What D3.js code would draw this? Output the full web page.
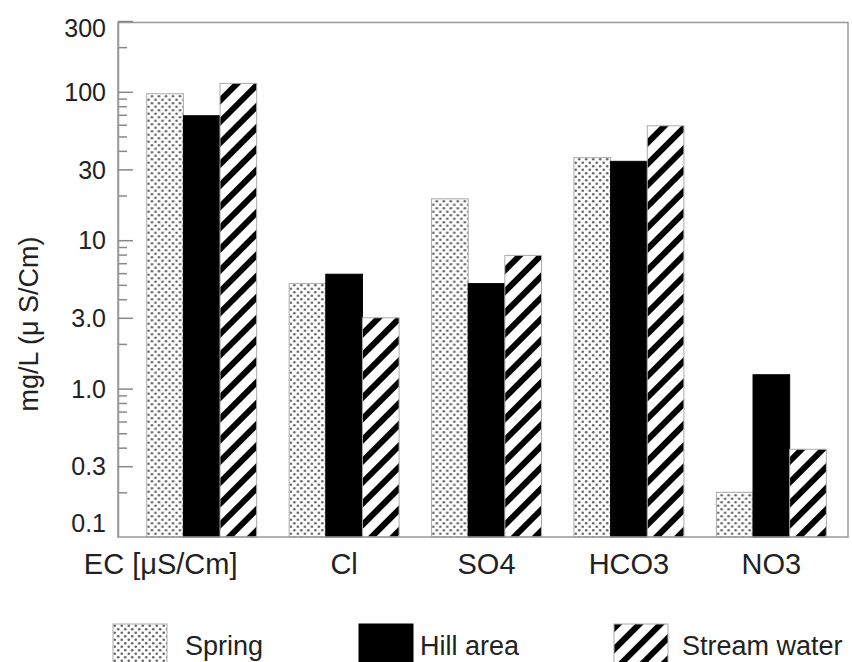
<!DOCTYPE html>
<html>
<head>
<meta charset="utf-8">
<script src="https://cdn.jsdelivr.net/npm/d3@7"></script>
<style>
  body { margin: 0; background: #fff; }
  svg { display: block; font-family: 'Liberation Sans', Arial, sans-serif; }
</style>
</head>
<body>
<div id="chart"></div>
<script>
(function () {

    const categories = ['EC [μS/Cm]', 'Cl', 'SO4', 'HCO3', 'NO3'];
    const seriesNames = ['Spring', 'Hill area', 'Stream water'];

    const spring = [97, 5.1, 19, 36, 0.2];
    const hillArea = [69, 5.9, 5.1, 34, 1.24];
    const streamWater = [114, 3.0, 7.9, 59, 0.39];

    const yTickValues = [0.1, 0.3, 1, 3, 10, 30, 100, 300];
    const yTickLabels = ['0.1', '0.3', '1.0', '3.0', '10', '30', '100', '300'];

    const width = 852,
      height = 662,
      left = 118,
      right = 848,
      top = 21,
      bottom = 537;

    const seriesValues = [spring, hillArea, streamWater];

    // one row per category, one value per series
    const rows = categories.map((cat, i) => ({
      cat,
      values: seriesNames.map((name, j) => ({ name, value: seriesValues[j][i] }))
    }));

    const x = d3
      .scaleBand()
      .domain(categories)
      .range([left, right])
      .paddingInner(0.228)
      .paddingOuter(0.177)
      .align(0.57);

    const xSub = d3
      .scaleBand()
      .domain(seriesNames)
      .range([0, x.bandwidth()]);

    const y = d3.scaleLog().domain([0.1, 300]).range([bottom, top]);

    const svg = d3
      .select('#chart')
      .append('svg')
      .attr('width', width)
      .attr('height', height);

    const defs = svg.append('defs');

    const dots = defs
      .append('pattern')
      .attr('id', 'dots')
      .attr('patternUnits', 'userSpaceOnUse')
      .attr('width', 7)
      .attr('height', 7);
    dots.append('rect').attr('width', 7).attr('height', 7).attr('fill', '#fff');
    dots.append('circle').attr('cx', 1.75).attr('cy', 1.75).attr('r', 1.3).attr('fill', '#666');
    dots.append('circle').attr('cx', 5.25).attr('cy', 5.25).attr('r', 1.3).attr('fill', '#666');

    const stripes = defs
      .append('pattern')
      .attr('id', 'stripes')
      .attr('patternUnits', 'userSpaceOnUse')
      .attr('width', 15)
      .attr('height', 15)
      .attr('patternTransform', 'rotate(45)');
    stripes.append('rect').attr('width', 15).attr('height', 15).attr('fill', '#fff');
    stripes.append('rect').attr('width', 6).attr('height', 15).attr('fill', '#000');

    const fills = {
      'Spring': 'url(#dots)',
      'Hill area': '#000',
      'Stream water': 'url(#stripes)'
    };

    // bars
    const group = svg
      .selectAll('.group')
      .data(rows)
      .enter()
      .append('g')
      .attr('class', 'group')
      .attr('transform', d => `translate(${x(d.cat)}, 0)`);

    group
      .selectAll('rect')
      .data(d => d.values)
      .enter()
      .append('rect')
      .attr('x', d => xSub(d.name))
      .attr('width', xSub.bandwidth())
      .attr('y', d => y(d.value))
      .attr('height', d => y(0.1) - y(d.value))
      .attr('fill', d => fills[d.name])
      .attr('stroke', d => (d.name === 'Hill area' ? '#000' : '#aaa'))
      .attr('stroke-width', 1);

    // frame
    svg
      .append('rect')
      .attr('x', left)
      .attr('y', top + 1.5)
      .attr('width', right - left)
      .attr('height', bottom - top - 1.5)
      .attr('fill', 'none')
      .attr('stroke', '#999')
      .attr('stroke-width', 1.5);

    // minor ticks
    const minor = y.ticks().filter(v => !yTickValues.some(t => Math.abs(t - v) < 1e-9));
    svg
      .append('g')
      .attr('class', 'y minor')
      .attr('transform', `translate(${left}, 0)`)
      .call(d3.axisLeft(y).tickValues(minor).tickSize(-9).tickFormat(''))
      .call(g => g.select('.domain').remove())
      .selectAll('line')
      .attr('stroke', '#888')
      .attr('stroke-width', 1.5);

    // major ticks + labels
    const yAxis = svg
      .append('g')
      .attr('class', 'y axis')
      .attr('transform', `translate(${left}, 0)`)
      .call(
        d3
          .axisLeft(y)
          .tickValues(yTickValues.slice(1))
          .tickSizeInner(-15)
          .tickSizeOuter(0)
          .tickPadding(12)
          .tickFormat(d => yTickLabels[yTickValues.indexOf(d)])
      );
    yAxis.select('.domain').attr('stroke', '#999').attr('stroke-width', 1.5);
    yAxis.selectAll('line').attr('stroke', '#888').attr('stroke-width', 1.5);
    yAxis
      .selectAll('text')
      .attr('fill', '#222')
      .style('font-size', '25px')
      .attr('dy', d => (d === 300 ? '0.6em' : '0.35em'));

    // bottom label 0.1 sits above the axis line
    svg
      .append('text')
      .attr('x', left - 12)
      .attr('y', y(yTickValues[0]) - 14)
      .attr('dy', '0.35em')
      .attr('text-anchor', 'end')
      .attr('fill', '#222')
      .style('font-size', '25px')
      .text(yTickLabels[0]);

    // x labels
    svg
      .append('g')
      .attr('class', 'x labels')
      .selectAll('text')
      .data(categories)
      .enter()
      .append('text')
      .attr('x', d => x(d) + x.bandwidth() / 2)
      .attr('dx', (d, i) => (i === 0 ? -41 : 0))
      .attr('y', 574)
      .attr('text-anchor', 'middle')
      .attr('fill', '#222')
      .style('font-size', '29px')
      .text(d => d);

    // y title
    svg
      .append('text')
      .attr('transform', `translate(38, ${(top + bottom) / 2 + 45}) rotate(-90)`)
      .attr('text-anchor', 'middle')
      .attr('fill', '#222')
      .style('font-size', '27px')
      .text('mg/L (μ S/Cm)');

    // legend
    const legendX = [113, 359, 614];
    const legendGap = [18, 7, 14];
    const legend = svg
      .selectAll('.legend')
      .data(seriesNames)
      .enter()
      .append('g')
      .attr('class', 'legend')
      .attr('transform', (d, i) => `translate(${legendX[i]}, 624)`);

    legend
      .append('rect')
      .attr('width', 54)
      .attr('height', 40)
      .attr('fill', d => fills[d])
      .attr('stroke', d => (d === 'Hill area' ? '#000' : '#aaa'));

    legend
      .append('text')
      .attr('x', (d, i) => 54 + legendGap[i])
      .attr('y', 31)
      .attr('fill', '#222')
      .style('font-size', '27px')
      .text(d => d);

})();
</script>
</body>
</html>
